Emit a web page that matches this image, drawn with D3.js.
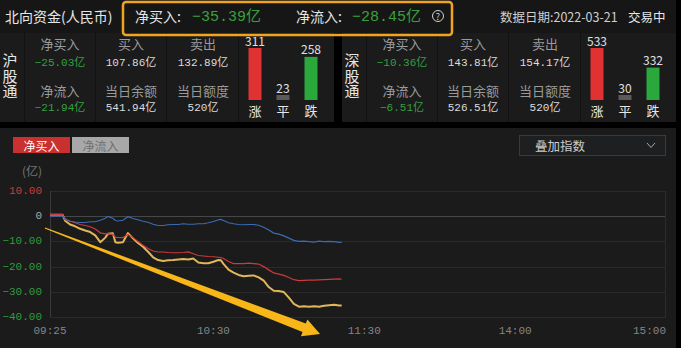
<!DOCTYPE html>
<html>
<head>
<meta charset="utf-8">
<script src="https://cdn.jsdelivr.net/npm/d3@7"></script>
<style>
	html, body { margin: 0; padding: 0; background: #000; overflow: hidden; }
	svg { display: block; }
	text { font-family: "Noto Sans CJK SC", sans-serif; }
	.num { font-family: "Liberation Mono", "Noto Sans CJK SC", monospace; }
</style>
</head>
<body>
<div id="board"></div>
<script>
// summary row
const totalNetBuy = -35.39;
const totalNetInflow = -28.45;
const dataDate = '2022-03-21';

// per channel panels (沪股通, 深股通)
const channelNames = ['沪股通', '深股通'];
const netBuy = [-25.03, -10.36];
const buyAmount = [107.86, 143.81];
const sellAmount = [132.89, 154.17];
const netInflow = [-21.94, -6.51];
const dayBalance = [541.94, 526.51];
const dayQuota = [520, 520];
const upCount = [311, 533];
const flatCount = [23, 30];
const downCount = [258, 332];

// intraday series, 亿元
const times = ['09:25', '09:30', '09:31', '09:33', '09:35', '09:37', '09:39', '09:41', '09:43', '09:45',
	'09:47', '09:48', '09:50', '09:51', '09:52', '09:54', '09:56', '09:58', '10:00', '10:02',
	'10:04', '10:06', '10:08', '10:10', '10:12', '10:14', '10:16', '10:18', '10:20', '10:22',
	'10:24', '10:26', '10:28', '10:30', '10:32', '10:33', '10:34', '10:36', '10:38', '10:40',
	'10:42', '10:44', '10:46', '10:48', '10:50', '10:52', '10:54', '10:56', '10:58', '11:00',
	'11:02', '11:04', '11:06', '11:08', '11:10', '11:12', '11:14', '11:16', '11:18', '11:20', '11:21'];
const northTotal = [0.6, 0.6, -1.8, -3.3, -4.0, -5.0, -5.7, -6.3, -7.6, -10.3,
	-8.5, -7.0, -6.8, -10.3, -10.5, -10.3, -6.7, -8.8, -10.6, -12.1,
	-14.1, -16.3, -17.4, -17.8, -17.5, -17.4, -17.2, -17.0, -17.2, -16.8,
	-18.4, -18.7, -18.7, -18.1, -17.4, -17.5, -18.9, -21.2, -22.4, -23.3,
	-23.8, -23.6, -23.5, -24.3, -25.6, -28.1, -29.6, -29.7, -30.1, -32.3,
	-34.8, -35.9, -35.7, -35.9, -35.7, -35.9, -35.5, -35.3, -35.1, -35.4, -35.39];
const shSeries = [0.6, 0.6, -1.4, -2.0, -2.6, -3.3, -3.7, -4.2, -5.1, -6.6,
	-7.0, -6.9, -7.2, -8.3, -8.4, -8.5, -7.2, -8.5, -10.0, -11.5,
	-12.8, -13.8, -14.2, -14.2, -14.4, -14.5, -14.5, -14.4, -14.2, -14.9,
	-15.6, -15.8, -16.0, -16.1, -16.3, -16.4, -16.8, -18.0, -18.8, -18.8,
	-18.8, -18.6, -18.8, -19.0, -20.0, -21.3, -22.5, -23.0, -23.5, -24.3,
	-25.2, -25.6, -25.5, -25.4, -25.4, -25.3, -25.2, -25.1, -25.0, -24.9, -25.03];
const szSeries = [0, 0, -1.0, -2.0, -2.3, -2.5, -2.5, -2.2, -2.2, -1.6,
	-0.8, -0.1, -0.8, -1.7, -1.9, -1.6, -0.2, -0.9, -1.4, -2.0,
	-2.4, -3.2, -3.7, -3.7, -3.4, -3.3, -3.3, -3.0, -3.2, -3.2,
	-3.0, -3.0, -2.6, -2.1, -1.4, -1.3, -1.7, -2.6, -3.0, -3.3,
	-3.4, -3.3, -3.3, -3.6, -4.4, -5.5, -6.7, -7.1, -7.8, -8.7,
	-9.6, -10.0, -9.9, -10.1, -10.3, -9.9, -10.1, -10.0, -10.1, -10.4, -10.36];

const yTicks = [10, 0, -10, -20, -30, -40];
const xTicks = ['09:25', '10:30', '11:30', '14:00', '15:00'];

// trend annotation, [trading minute, 亿]
const arrowFrom = [-2, -4.7];
const arrowTo = [107.4, -46.7];

var width = 681;
var height = 348;

var svg = d3
	.select('#board')
	.append('svg')
	.attr('width', width)
	.attr('height', height);

svg.append('rect').attr('width', width).attr('height', height).attr('fill', '#000');

// top bar
svg.append('rect').attr('x', 0).attr('y', 0).attr('width', 676).attr('height', 33).attr('fill', '#161616');

svg.append('text')
	.attr('x', 5).attr('y', 16)
	.attr('dominant-baseline', 'central')
	.attr('font-size', 14)
	.attr('fill', '#e6e6e6')
	.text('北向资金(人民币)');

var fmt = d3.format('.2f');

svg.append('text')
	.attr('x', 135).attr('y', 16)
	.attr('dominant-baseline', 'central')
	.attr('font-size', 14)
	.attr('fill', '#e6e6e6')
	.text('净买入:');
svg.append('text')
	.attr('class', 'num')
	.attr('x', 192).attr('y', 17)
	.attr('dominant-baseline', 'central')
	.attr('font-size', 15)
	.attr('fill', '#3aa03c')
	.text(fmt(totalNetBuy) + '亿');

svg.append('text')
	.attr('x', 296).attr('y', 16)
	.attr('dominant-baseline', 'central')
	.attr('font-size', 14)
	.attr('fill', '#e6e6e6')
	.text('净流入:');
svg.append('text')
	.attr('class', 'num')
	.attr('x', 352).attr('y', 17)
	.attr('dominant-baseline', 'central')
	.attr('font-size', 15)
	.attr('fill', '#3aa03c')
	.text(fmt(totalNetInflow) + '亿');

// help icon
svg.append('circle').attr('cx', 438).attr('cy', 16).attr('r', 5.5)
	.attr('fill', 'none').attr('stroke', '#d0d0d0').attr('stroke-width', 1);
svg.append('text')
	.attr('x', 438).attr('y', 16.5)
	.attr('text-anchor', 'middle')
	.attr('dominant-baseline', 'central')
	.attr('font-size', 9)
	.attr('fill', '#d0d0d0')
	.text('?');

svg.append('text')
	.attr('x', 500).attr('y', 16)
	.attr('dominant-baseline', 'central')
	.attr('font-size', 12.5)
	.attr('fill', '#cfcfcf')
	.text('数据日期:' + dataDate);
svg.append('text')
	.attr('x', 628).attr('y', 16)
	.attr('dominant-baseline', 'central')
	.attr('font-size', 12.5)
	.attr('fill', '#e6e6e6')
	.text('交易中');

// channel panels
var panelTop = 33;
var barBase = 100;
var barScale = d3.scaleLinear().range([0, 52]);

channelNames.forEach(function (name, i) {
	var x0 = i * 342;
	var g = svg.append('g').attr('transform', 'translate(' + x0 + ',0)');

	g.append('rect').attr('x', 0).attr('y', panelTop).attr('width', 334).attr('height', 122 - panelTop).attr('fill', '#1b1b1b');

	// cell dividers
	g.selectAll('line.div')
		.data([24, 95, 166, 238])
		.enter()
		.append('line')
		.attr('class', 'div')
		.attr('x1', function (d) { return d + 0.5; })
		.attr('x2', function (d) { return d + 0.5; })
		.attr('y1', panelTop)
		.attr('y2', 122)
		.attr('stroke', '#121212');

	// vertical channel name, one text written top to bottom
	g.append('text')
		.attr('x', 10)
		.attr('y', 53)
		.style('writing-mode', 'vertical-rl')
		.attr('text-anchor', 'start')
		.attr('font-size', 15)
		.attr('letter-spacing', 0.5)
		.attr('fill', '#e8e8e8')
		.text(name);

	var cells = [
		{ cx: 60, label: '净买入', value: fmt(netBuy[i]) + '亿', row: 0, color: '#33a040' },
		{ cx: 131, label: '买入', value: fmt(buyAmount[i]) + '亿', row: 0, color: '#dcdcdc' },
		{ cx: 203, label: '卖出', value: fmt(sellAmount[i]) + '亿', row: 0, color: '#dcdcdc' },
		{ cx: 60, label: '净流入', value: fmt(netInflow[i]) + '亿', row: 1, color: '#33a040' },
		{ cx: 131, label: '当日余额', value: fmt(dayBalance[i]) + '亿', row: 1, color: '#dcdcdc' },
		{ cx: 203, label: '当日额度', value: d3.format('d')(dayQuota[i]) + '亿', row: 1, color: '#dcdcdc' }
	];

	g.selectAll('text.label')
		.data(cells)
		.enter()
		.append('text')
		.attr('class', 'label')
		.attr('x', function (d) { return d.cx; })
		.attr('y', function (d) { return 43 + d.row * 47; })
		.attr('text-anchor', 'middle')
		.attr('dominant-baseline', 'central')
		.attr('font-size', 13)
		.attr('fill', '#9a9a9a')
		.text(function (d) { return d.label; });

	g.selectAll('text.value')
		.data(cells)
		.enter()
		.append('text')
		.attr('class', 'value num')
		.attr('x', function (d) { return d.cx; })
		.attr('y', function (d) { return 63 + d.row * 45; })
		.attr('text-anchor', 'middle')
		.attr('dominant-baseline', 'central')
		.attr('font-size', 11)
		.attr('fill', function (d) { return d.color; })
		.text(function (d) { return d.value; });

	// up / flat / down bars
	var counts = [
		{ n: upCount[i], label: '涨', color: '#e03232', cx: 255 },
		{ n: flatCount[i], label: '平', color: '#5a5a5a', cx: 283 },
		{ n: downCount[i], label: '跌', color: '#2aa83c', cx: 311 }
	];
	barScale.domain([0, d3.max(counts, function (d) { return d.n; })]);

	g.selectAll('rect.bar')
		.data(counts)
		.enter()
		.append('rect')
		.attr('class', 'bar')
		.attr('x', function (d) { return d.cx - 6.5; })
		.attr('width', 13)
		.attr('y', function (d) { return barBase - Math.max(5, barScale(d.n)); })
		.attr('height', function (d) { return Math.max(5, barScale(d.n)); })
		.attr('fill', function (d) { return d.color; });

	g.selectAll('text.count')
		.data(counts)
		.enter()
		.append('text')
		.attr('class', 'count')
		.attr('x', function (d) { return d.cx; })
		.attr('y', function (d) { return barBase - Math.max(5, barScale(d.n)) - 8; })
		.attr('text-anchor', 'middle')
		.attr('dominant-baseline', 'central')
		.attr('font-size', 12)
		.attr('fill', '#e0e0e0')
		.text(function (d) { return d.n; });

	g.selectAll('text.kind')
		.data(counts)
		.enter()
		.append('text')
		.attr('class', 'kind')
		.attr('x', function (d) { return d.cx; })
		.attr('y', 110)
		.attr('text-anchor', 'middle')
		.attr('dominant-baseline', 'central')
		.attr('font-size', 13)
		.attr('fill', '#e8e8e8')
		.text(function (d) { return d.label; });
});

// highlight box round the summary numbers
svg.append('rect')
	.attr('x', 123).attr('y', 2)
	.attr('width', 329).attr('height', 33)
	.attr('rx', 3)
	.attr('fill', 'none')
	.attr('stroke', '#f0a420')
	.attr('stroke-width', 2.5);

// chart panel
svg.append('rect').attr('x', 0).attr('y', 128).attr('width', 676).attr('height', 220).attr('fill', '#1b1b1c');

// tabs
svg.append('rect').attr('x', 13).attr('y', 137).attr('width', 57).attr('height', 16).attr('fill', '#c9302e');
svg.append('text').attr('x', 41.5).attr('y', 145).attr('text-anchor', 'middle').attr('dominant-baseline', 'central')
	.attr('font-size', 12).attr('fill', '#ffffff').text('净买入');
svg.append('rect').attr('x', 72).attr('y', 137).attr('width', 57).attr('height', 16).attr('fill', '#a8a8a8');
svg.append('text').attr('x', 100.5).attr('y', 145).attr('text-anchor', 'middle').attr('dominant-baseline', 'central')
	.attr('font-size', 12).attr('fill', '#707070').text('净流入');

// overlay index dropdown
svg.append('rect').attr('x', 519.5).attr('y', 135.5).attr('width', 146).attr('height', 20)
	.attr('fill', '#1e1f20').attr('stroke', '#3a3a3a');
svg.append('text').attr('x', 535).attr('y', 145).attr('dominant-baseline', 'central')
	.attr('font-size', 12.5).attr('fill', '#cccccc').text('叠加指数');
svg.append('path').attr('d', 'M647,143 L651,147.5 L655,143')
	.attr('fill', 'none').attr('stroke', '#aaaaaa').attr('stroke-width', 1);

svg.append('text').attr('x', 32).attr('y', 170).attr('text-anchor', 'middle').attr('dominant-baseline', 'central')
	.attr('font-size', 12).attr('fill', '#777777').text('(亿)');

// minutes of trading since 09:25, lunch break removed
var parseTime = d3.timeParse('%H:%M');
var tradeMinute = function (s) {
	var t = parseTime(s);
	var m = t.getHours() * 60 + t.getMinutes();
	if (m >= 13 * 60) return 125 + (m - 13 * 60);
	return m - (9 * 60 + 25);
};

var x = d3.scaleLinear().domain([0, 245]).range([50, 666]);
var y = d3.scaleLinear().domain([-40, 10]).range([317, 191]);

// grid
svg.append('g')
	.selectAll('line')
	.data(yTicks)
	.enter()
	.append('line')
	.attr('x1', 50).attr('x2', 666)
	.attr('y1', function (d) { return Math.round(y(d)) + 0.5; })
	.attr('y2', function (d) { return Math.round(y(d)) + 0.5; })
	.attr('stroke', function (d) { return d === 0 ? '#474747' : '#2b2b2b'; });

svg.append('line').attr('x1', 50.5).attr('x2', 50.5).attr('y1', y(10)).attr('y2', y(-40)).attr('stroke', '#3a3a3a');
svg.append('line').attr('x1', 665.5).attr('x2', 665.5).attr('y1', y(10)).attr('y2', y(-40)).attr('stroke', '#2b2b2b');

svg.append('g')
	.selectAll('text')
	.data(yTicks)
	.enter()
	.append('text')
	.attr('class', 'num')
	.attr('x', 42)
	.attr('y', function (d) { return y(d); })
	.attr('text-anchor', 'end')
	.attr('dominant-baseline', 'central')
	.attr('font-size', 11)
	.attr('fill', function (d) { return d > 0 ? '#c83c3c' : d < 0 ? '#2f9c3c' : '#aaaaaa'; })
	.text(function (d) { return d === 0 ? '0' : fmt(d); });

svg.append('g')
	.selectAll('text')
	.data(xTicks)
	.enter()
	.append('text')
	.attr('class', 'num')
	.attr('x', function (d) { return x(tradeMinute(d)); })
	.attr('y', 331)
	.attr('text-anchor', function (d, i) { return i === xTicks.length - 1 ? 'end' : 'middle'; })
	.attr('dominant-baseline', 'central')
	.attr('font-size', 11)
	.attr('fill', '#858585')
	.text(function (d) { return d; });

// lines
var line = d3
	.line()
	.x(function (d, i) { return x(tradeMinute(times[i])); })
	.y(function (d) { return y(d); });

svg.append('path').datum(northTotal).attr('d', line)
	.attr('fill', 'none').attr('stroke', '#e0b75a').attr('stroke-width', 2).attr('stroke-linejoin', 'round');
svg.append('path').datum(shSeries).attr('d', line)
	.attr('fill', 'none').attr('stroke', '#cc3a3a').attr('stroke-width', 1.2);
svg.append('path').datum(szSeries).attr('d', line)
	.attr('fill', 'none').attr('stroke', '#3b6cb2').attr('stroke-width', 1.2);

// trend arrow
var p0 = [x(arrowFrom[0]), y(arrowFrom[1])];
var p1 = [x(arrowTo[0]), y(arrowTo[1])];
var dx = p1[0] - p0[0];
var dy = p1[1] - p0[1];
var len = Math.sqrt(dx * dx + dy * dy);
var ux = dx / len, uy = dy / len;
var nx = -uy, ny = ux;
var headLen = 17, headHalf = 9, shaftEnd = 4.5, shaftStart = 0.6;
var bx = p1[0] - ux * headLen, by = p1[1] - uy * headLen;
var arrowPts = [
	[p0[0] + nx * shaftStart, p0[1] + ny * shaftStart],
	[bx + nx * shaftEnd, by + ny * shaftEnd],
	[bx + nx * headHalf, by + ny * headHalf],
	p1,
	[bx - nx * headHalf, by - ny * headHalf],
	[bx - nx * shaftEnd, by - ny * shaftEnd],
	[p0[0] - nx * shaftStart, p0[1] - ny * shaftStart]
];
svg.append('path')
	.attr('d', 'M' + arrowPts.map(function (p) { return p.join(','); }).join('L') + 'Z')
	.attr('fill', '#f8b618');
</script>
</body>
</html>
